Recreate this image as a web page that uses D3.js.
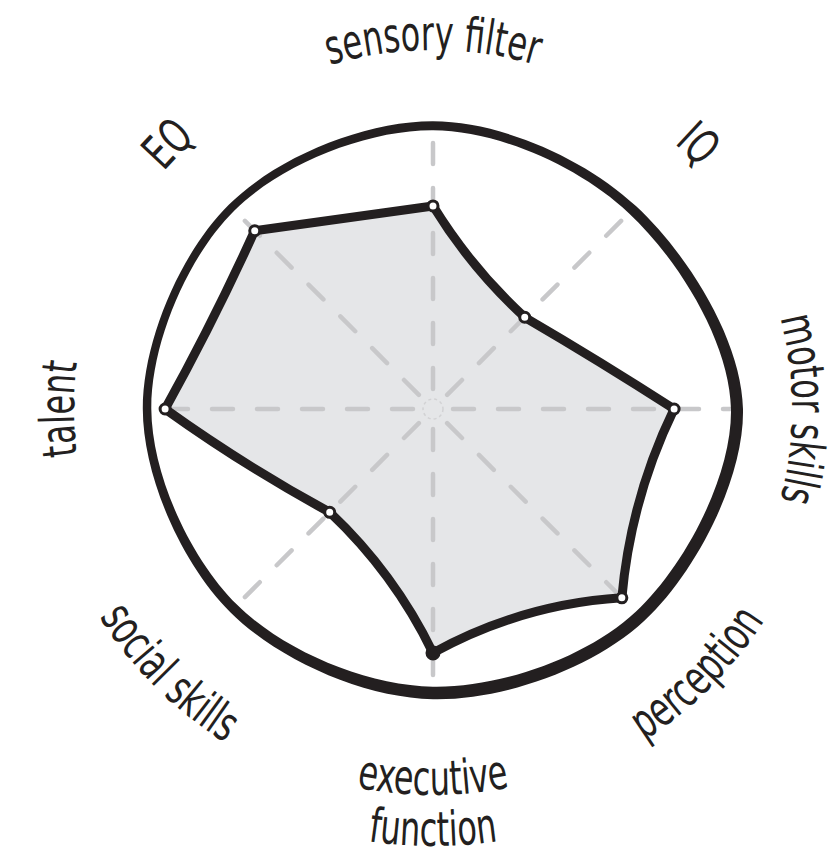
<!DOCTYPE html>
<html>
<head>
<meta charset="utf-8">
<script src="https://cdn.jsdelivr.net/npm/d3@7"></script>
<style>
  html, body { margin: 0; padding: 0; background: #fff; }
  svg { display: block; }
  .label { font-family: "Liberation Sans Narrow", "DejaVu Sans Condensed", sans-serif; font-stretch: condensed; font-size: 48px; fill: #231f20; }
</style>
</head>
<body>
<div id="chart"></div>
<script>
// Axes, clockwise from the top.
var axes = ["sensory filter", "IQ", "motor skills", "perception",
            "executive function", "social skills", "talent", "EQ"];
// Label text, split in lines where the picture breaks them.
var labelLines = [["sensory filter"], ["IQ"], ["motor skills"], ["perception"],
                  ["executive", "function"], ["social skills"], ["talent"], ["EQ"]];
// Profile scores (0-100).
var scores = [72, 46, 85.5, 94.7, 86.5, 51.8, 95, 89.4];
// Hand-drawn outer ring, same units.
var outline = [100.4, 100, 107.8, 103.9, 100.7, 100, 101.4, 101];
// Axis whose marker is drawn solid.
var solidMarker = ["executive function"];

(function () {
  "use strict";

  var width = 831, height = 856;
  var cx = 433, cy = 409;
  var ink = "#231f20";

  // Sketch styling: bow of each edge (px, + toward centre) and ring stroke width per axis.
  var edgeSag = [5, -1, 9, 11, 8, -3, 2, 0];
  var ringWidth = [9, 10, 12, 12.5, 12.5, 10, 8.5, 8];
  // Squeeze labels horizontally to imitate the tall, narrow hand lettering.
  var squeeze = 0.74;

  var svg = d3.select("#chart").append("svg")
    .attr("width", width)
    .attr("height", height);

  var defs = svg.append("defs");
  var g = svg.append("g").attr("transform", "translate(" + cx + "," + cy + ")");

  var n = axes.length;
  var angle = d3.scalePoint().domain(axes).range([0, 2 * Math.PI * (n - 1) / n]);
  var radius = d3.scaleLinear().domain([0, 100]).range([0, 282]);

  function pt(axis, v) { return d3.pointRadial(angle(axis), radius(v)); }

  // Profile shape: each edge a slightly bowed curve.
  var pts = axes.map(function (d, i) { return pt(d, scores[i]); });
  var p = d3.path();
  p.moveTo(pts[0][0], pts[0][1]);
  pts.forEach(function (a, i) {
    var b = pts[(i + 1) % n];
    var mx = (a[0] + b[0]) / 2, my = (a[1] + b[1]) / 2;
    var dx = b[0] - a[0], dy = b[1] - a[1];
    var len = Math.sqrt(dx * dx + dy * dy);
    var nx = -dy / len, ny = dx / len;
    if (nx * mx + ny * my > 0) { nx = -nx; ny = -ny; }
    var k = 2 * edgeSag[i];
    p.quadraticCurveTo(mx + nx * k, my + ny * k, b[0], b[1]);
  });
  p.closePath();

  // Fill first, so the dashed spokes show through it.
  g.append("path")
    .attr("d", p.toString())
    .attr("fill", "#e5e6e8");

  // Grid spokes (dashed).
  g.append("g").attr("class", "grid")
    .selectAll("line")
    .data(axes).enter().append("line")
    .attr("x1", function (d) { return d3.pointRadial(angle(d), 20)[0]; })
    .attr("y1", function (d) { return d3.pointRadial(angle(d), 20)[1]; })
    .attr("x2", function (d, i) { return pt(d, outline[i])[0]; })
    .attr("y2", function (d, i) { return pt(d, outline[i])[1]; })
    .attr("stroke", "#c8c8ca")
    .attr("stroke-width", 4.5)
    .attr("stroke-linecap", "round")
    .attr("stroke-dasharray", "21 24");

  // Faint dashed ring at the centre.
  g.append("circle")
    .attr("r", 10)
    .attr("fill", "none")
    .attr("stroke", "#d2d2d4")
    .attr("stroke-width", 1.5)
    .attr("stroke-dasharray", "3 3");

  // Outer ring as a band with varying thickness.
  var ringLine = d3.line().curve(d3.curveCardinalClosed);
  var outer = ringLine(axes.map(function (d, i) {
    return d3.pointRadial(angle(d), radius(outline[i]) + ringWidth[i] / 2);
  }));
  var inner = ringLine(axes.map(function (d, i) {
    return d3.pointRadial(angle(d), radius(outline[i]) - ringWidth[i] / 2);
  }));
  g.append("path")
    .attr("d", outer + inner)
    .attr("fill", ink)
    .attr("fill-rule", "evenodd");

  // Profile outline.
  g.append("path")
    .attr("d", p.toString())
    .attr("fill", "none")
    .attr("stroke", ink)
    .attr("stroke-width", 9)
    .attr("stroke-linejoin", "round");

  // Markers.
  g.append("g").selectAll("circle")
    .data(axes).enter().append("circle")
    .attr("cx", function (d, i) { return pts[i][0]; })
    .attr("cy", function (d, i) { return pts[i][1]; })
    .attr("r", function (d) { return solidMarker.indexOf(d) >= 0 ? 6 : 5; })
    .attr("fill", function (d) { return solidMarker.indexOf(d) >= 0 ? ink : "#fff"; })
    .attr("stroke", ink)
    .attr("stroke-width", 3);

  // Curved labels: upper ones read clockwise, lower ones counter-clockwise.
  var span = Math.PI / 3;
  function arcPath(a, r, clockwise) {
    var s = clockwise ? a - span : a + span;
    var e = clockwise ? a + span : a - span;
    var p0 = d3.pointRadial(s, r), p1 = d3.pointRadial(e, r);
    return "M" + (cx + p0[0]) + "," + (cy + p0[1]) +
      "A" + r + "," + r + " 0 0 " + (clockwise ? 1 : 0) + " " + (cx + p1[0]) + "," + (cy + p1[1]);
  }

  axes.forEach(function (d, i) {
    var a = angle(d);
    var lower = a > Math.PI / 2 + 0.01 && a < 3 * Math.PI / 2 - 0.01;
    var lines = labelLines[i];
    lines.forEach(function (line, j) {
      var r = !lower ? 359 : (lines.length > 1 ? 386 + j * 51 : 393);
      var id = "lab-" + i + "-" + j;
      defs.append("path").attr("id", id).attr("d", arcPath(a, r, !lower));
      var text = svg.append("text").attr("class", "label");
      var tp = text.append("textPath")
        .attr("href", "#" + id)
        .attr("startOffset", "50%")
        .attr("text-anchor", "middle")
        .text(line);
      var natural = text.node().getComputedTextLength();
      tp.attr("textLength", natural * squeeze)
        .attr("lengthAdjust", "spacingAndGlyphs");
    });
  });
})();
</script>
</body>
</html>
